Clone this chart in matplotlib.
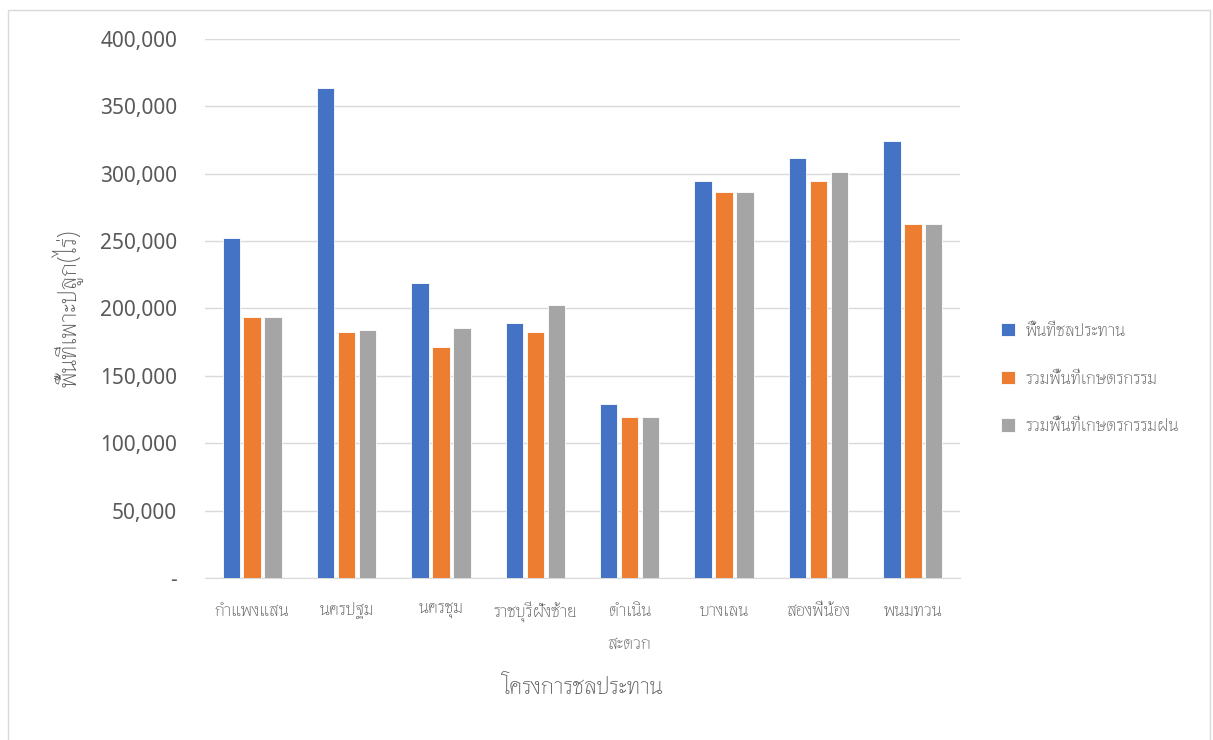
import matplotlib
matplotlib.use('Agg')
import matplotlib.pyplot as plt
from matplotlib.patches import Rectangle
import numpy as np

# ข้อมูลพื้นที่ (ไร่) ต่อโครงการชลประทาน
projects = ['กำแพงแสน', 'นครปฐม', 'นครชุม', 'ราชบุรีฝั่งซ้าย', 'ดำเนิน\nสะดวก',
            'บางเลน', 'สองพี่น้อง', 'พนมทวน']
irrigated = [252000, 364000, 219000, 189000, 129300, 294600, 311500, 324100]
agri_total = [193700, 182800, 171400, 182800, 119500, 286200, 294600, 262900]
agri_rain = [193700, 183800, 185300, 202400, 119500, 286200, 301100, 262900]
series_names = ['พื้นที่ชลประทาน', 'รวมพื้นที่เกษตรกรรม', 'รวมพื้นที่เกษตรกรรมฝน']
colors = ['#4472c4', '#ed7d31', '#a5a5a5']

plt.rcParams['font.family'] = ['Thasadith', 'Loma', 'DejaVu Sans']
txt = '#595959'

fig = plt.figure(figsize=(12.13, 7.40), dpi=100)
ax = fig.add_axes([205 / 1213, 1 - 578 / 740, 755 / 1213, 539 / 740])

x = np.arange(len(projects))
step = 0.222
for i, (vals, name) in enumerate(zip([irrigated, agri_total, agri_rain], series_names)):
    ax.bar(x + (i - 1) * step, vals, width=0.185, color=colors[i], label=name,
           edgecolor='white', linewidth=0.6, zorder=3)

ax.set_xlim(-0.5, len(projects) - 0.5)
ax.set_ylim(0, 400000)
ax.set_yticks(np.arange(0, 400001, 50000))
ax.yaxis.set_major_formatter(lambda v, p: '-' if v == 0 else f'{v:,.0f}')
ax.set_xticks(x)
ax.set_xticklabels(projects, fontsize=13, color=txt, linespacing=2.1, va='top')
ax.tick_params(axis='y', length=0, pad=20, labelsize=15, labelcolor=txt)
ax.tick_params(axis='x', length=0, pad=17.5)
for lab in ax.get_yticklabels():
    lab.set_family(['Noto Sans', 'DejaVu Sans'])
ax.grid(axis='y', color='#d9d9d9', linewidth=1, zorder=0)
for s in ['top', 'right', 'left']:
    ax.spines[s].set_visible(False)
ax.spines['bottom'].set_color('#d9d9d9')

ax.set_ylabel('พื้นที่เพาะปลูก(ไร่)', fontsize=18, color=txt, labelpad=12)
ax.set_xlabel('โครงการชลประทาน', fontsize=17, color=txt, labelpad=16)

ax.legend(loc='center left', bbox_to_anchor=(1.033, 0.371), frameon=False,
          fontsize=13, labelcolor=txt, handlelength=0.75, handleheight=0.75,
          labelspacing=1.7, handletextpad=0.6)

fig.patches.append(Rectangle((8 / 1213, -0.01), 1202 / 1213, 1 - 10 / 740 + 0.01,
                             transform=fig.transFigure, fill=False,
                             edgecolor='#d9d9d9', linewidth=1))

fig.savefig('out.png', dpi=100)
